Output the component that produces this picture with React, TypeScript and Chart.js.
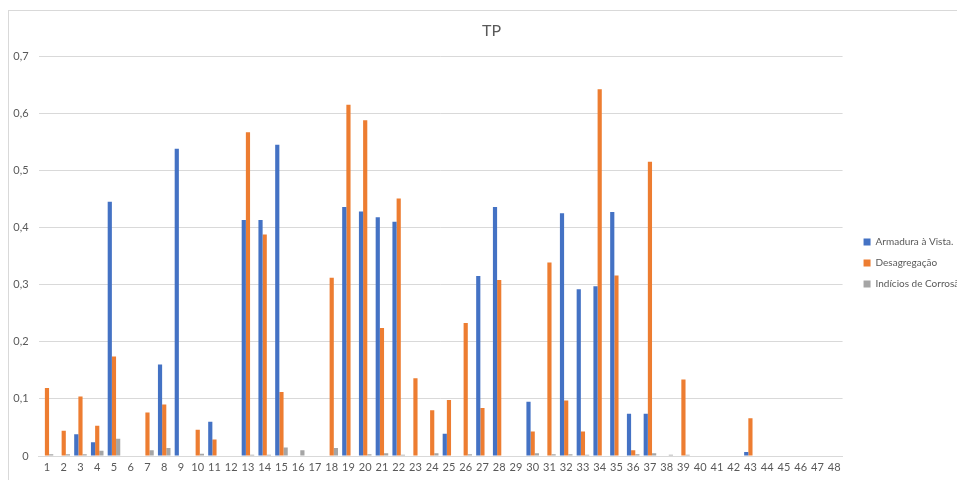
import React, { useEffect, useRef } from "react";
import { Chart, registerables } from "chart.js";

Chart.register(...registerables);

const categories: string[] = Array.from({ length: 48 }, (_, i) => String(i + 1));

const armaduraVista: (number | null)[] = [
  0, 0, 0.038, 0.024, 0.445, 0, 0, 0.16, 0.538, 0, 0.06, 0,
  0.413, 0.413, 0.545, 0, 0, 0, 0.436, 0.428, 0.418, 0.41, 0, 0,
  0.039, 0, 0.315, 0.436, 0, 0.095, 0, 0.425, 0.292, 0.297, 0.427, 0.074,
  0.074, 0, 0, 0, 0, 0, 0.007, 0, 0, 0, 0, 0,
];

const desagregacao: (number | null)[] = [
  0.119, 0.044, 0.104, 0.053, 0.174, 0, 0.076, 0.09, 0, 0.046, 0.029, 0,
  0.567, 0.388, 0.112, 0, 0, 0.312, 0.615, 0.588, 0.224, 0.451, 0.136, 0.08,
  0.098, 0.233, 0.084, 0.308, 0, 0.043, 0.339, 0.097, 0.043, 0.642, 0.316, 0.01,
  0.515, 0, 0.134, 0, 0, 0, 0.066, 0, 0, 0, 0, 0,
];

const indiciosCorrosao: (number | null)[] = [
  0.003, 0.003, 0.003, 0.009, 0.03, 0, 0.01, 0.014, 0, 0.004, 0.001, 0,
  0.002, 0.002, 0.015, 0.01, 0, 0.014, 0.001, 0.003, 0.005, 0.002, 0, 0.005,
  0.001, 0.003, 0, 0, 0, 0.005, 0.003, 0.003, 0.002, 0, 0, 0.003,
  0.005, 0.002, 0.002, 0, 0.001, 0, 0, 0, 0, 0, 0, 0,
];

const seriesNames = ["Armadura à Vista.", "Desagregação", "Indícios de Corrosão"];
const seriesColors = ["#4472C4", "#ED7D31", "#A5A5A5"];
const yTicks = [0, 0.1, 0.2, 0.3, 0.4, 0.5, 0.6, 0.7];

const FONT = "Lato, 'Open Sans', sans-serif";
const CANVAS_W = 967;
const CANVAS_H = 506;

export default function App() {
  const canvasRef = useRef<HTMLCanvasElement | null>(null);

  useEffect(() => {
    if (!canvasRef.current) return;
    const chart = new Chart(canvasRef.current, {
      type: "bar",
      data: {
        labels: categories,
        datasets: [armaduraVista, desagregacao, indiciosCorrosao].map((d, i) => ({
          label: seriesNames[i],
          data: d,
          backgroundColor: seriesColors[i],
          borderWidth: 0,
          categoryPercentage: 0.75,
          barPercentage: 1,
        })),
      },
      options: {
        animation: false,
        responsive: false,
        maintainAspectRatio: false,
        layout: { padding: { top: 0, left: 0, right: 0, bottom: 0 } },
        plugins: {
          title: {
            display: true,
            text: "TP",
            color: "#595959",
            font: { family: FONT, size: 16, weight: "normal" },
            padding: { top: 11, bottom: 16 },
          },
          legend: {
            position: "right",
            labels: {
              boxWidth: 7,
              boxHeight: 7,
              padding: 11,
              color: "#595959",
              font: { family: FONT, size: 10 },
            },
          },
          tooltip: { enabled: false },
        },
        scales: {
          x: {
            afterFit: (scale: any) => {
              scale.height = 60;
            },
            grid: { display: false, drawTicks: false },
            border: { display: true, color: "#D9D9D9", width: 1 },
            ticks: {
              color: "#595959",
              font: { family: FONT, size: 11 },
              padding: 5,
              maxRotation: 0,
              autoSkip: false,
            },
          },
          y: {
            min: 0,
            max: 0.7,
            afterFit: (scale: any) => {
              scale.width = 30.6;
            },
            afterBuildTicks: (scale: any) => {
              scale.ticks = yTicks.map((v) => ({ value: v }));
            },
            grid: { color: "#D9D9D9", lineWidth: 1, drawTicks: false },
            border: { display: false },
            ticks: {
              color: "#595959",
              font: { family: FONT, size: 11 },
              padding: 10,
              callback: (v: any) => (v === 0 ? "0" : Number(v).toFixed(1).replace(".", ",")),
            },
          },
          gap: {
            type: "linear",
            position: "right",
            display: true,
            afterFit: (scale: any) => {
              scale.width = 10;
            },
            grid: { display: false, drawTicks: false },
            border: { display: false },
            ticks: { display: false },
          },
        },
      },
    });
    return () => chart.destroy();
  }, []);

  return (
    <div
      style={{
        position: "fixed",
        left: 0,
        top: 0,
        width: 957,
        height: 480,
        overflow: "hidden",
        background: "#fff",
      }}
    >
      <div
        style={{
          position: "absolute",
          left: 8,
          top: 10,
          width: 1100,
          height: 600,
          border: "1px solid #D9D9D9",
          boxSizing: "border-box",
        }}
      />
      <div style={{ position: "absolute", left: 8, top: 10, width: CANVAS_W, height: CANVAS_H }}>
        <canvas
          ref={canvasRef}
          width={CANVAS_W}
          height={CANVAS_H}
          style={{ width: CANVAS_W, height: CANVAS_H }}
        />
      </div>
    </div>
  );
}
